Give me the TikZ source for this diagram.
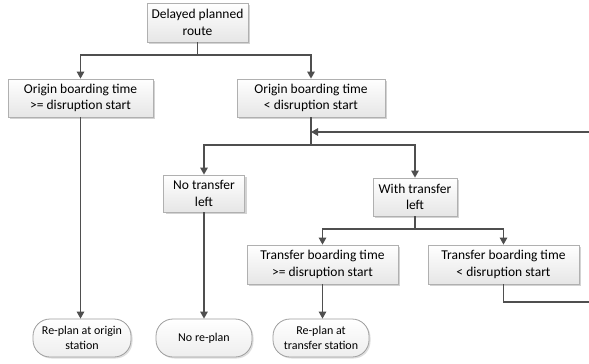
\documentclass[tikz,border=0pt]{standalone}
\usepackage{fontspec}
\setmainfont{Carlito}
\usetikzlibrary{arrows.meta,shadows,calc}
\definecolor{linec}{HTML}{4F4F4F}
\definecolor{boxborder}{HTML}{B0B0B0}
\definecolor{boxfill}{HTML}{E6E6E6}
\definecolor{shadowc}{HTML}{C8C8C8}
\tikzset{
  box/.style={draw=boxborder, line width=0.8pt, top color=white, bottom color=boxfill,
    drop shadow={shadow xshift=2pt, shadow yshift=-2pt, fill=shadowc, opacity=0.8},
    align=center, inner sep=0pt, font=\fontsize{13.5}{16.5}\selectfont},
  term/.style={draw=boxborder!90!black, line width=0.8pt, top color=white, bottom color=boxfill!70!white,
    rounded corners=17pt,
    drop shadow={shadow xshift=1.5pt, shadow yshift=-1.5pt, fill=shadowc, opacity=0.6},
    align=center, inner sep=0pt, font=\fontsize{12}{14.6}\selectfont},
  conn/.style={draw=linec, line width=1.3pt},
  arr/.style={conn, -{Triangle[length=7pt,width=7.5pt]}},
}
\begin{document}
\begin{tikzpicture}[x=1pt,y=-1pt]
\useasboundingbox (0,0) rectangle (589,364);
\clip (0,0) rectangle (589,364);
\fill[white] (0,0) rectangle (589,364);
% boxes
\node[box, minimum width=101pt, minimum height=39pt] (A) at (197.5,22.5) {Delayed planned\\route};
\node[box, minimum width=145pt, minimum height=38pt] (B) at (80.5,98) {Origin boarding time\\>= disruption start};
\node[box, minimum width=148pt, minimum height=38pt] (C) at (311,98) {Origin boarding time\\< disruption start};
\node[box, minimum width=81pt, minimum height=37pt] (D) at (204,193.5) {No transfer\\left};
\node[box, minimum width=84pt, minimum height=38pt] (E) at (415,197) {With transfer\\left};
\node[box, minimum width=151pt, minimum height=39pt] (F) at (322.5,264.5) {Transfer boarding time\\>= disruption start};
\node[box, minimum width=151pt, minimum height=39pt] (G) at (503.5,264.5) {Transfer boarding time\\< disruption start};
% terminals
\node[term, minimum width=98pt, minimum height=38pt] (T1) at (82,338) {Re-plan at origin\\station};
\node[term, minimum width=96pt, minimum height=38pt] (T2) at (204,338) {No re-plan};
\node[term, minimum width=96pt, minimum height=38pt] (T3) at (321,338) {Re-plan at\\transfer station};
% junction coordinates
\coordinate (j1) at (197.5,55);
\coordinate (j2) at (311,145);
\coordinate (j3) at (415,229);
\coordinate (fb) at (311,132);
\coordinate (r1) at (503.5,302);
\coordinate (r2) at (595,302);
\coordinate (r3) at (595,132);
% connectors
\draw[conn] (A.south) -- (j1);
\draw[arr] (j1) -| (B.north);
\draw[arr] (j1) -| (C.north);
\draw[conn] (C.south) -- (j2);
\draw[arr] (j2) -| (D.north);
\draw[arr] (j2) -| (E.north);
\draw[conn] (E.south) -- (j3);
\draw[arr] (j3) -| (F.north);
\draw[arr] (j3) -| (G.north);
\draw[arr] (B.south) -- (T1.north -| B.south);
\draw[arr] (D.south) -- (T2.north);
\draw[arr] (F.south) -- (T3.north -| F.south);
\draw[arr] (G.south) -- (r1) -- (r2) -- (r3) -- (fb);
\end{tikzpicture}
\end{document}
